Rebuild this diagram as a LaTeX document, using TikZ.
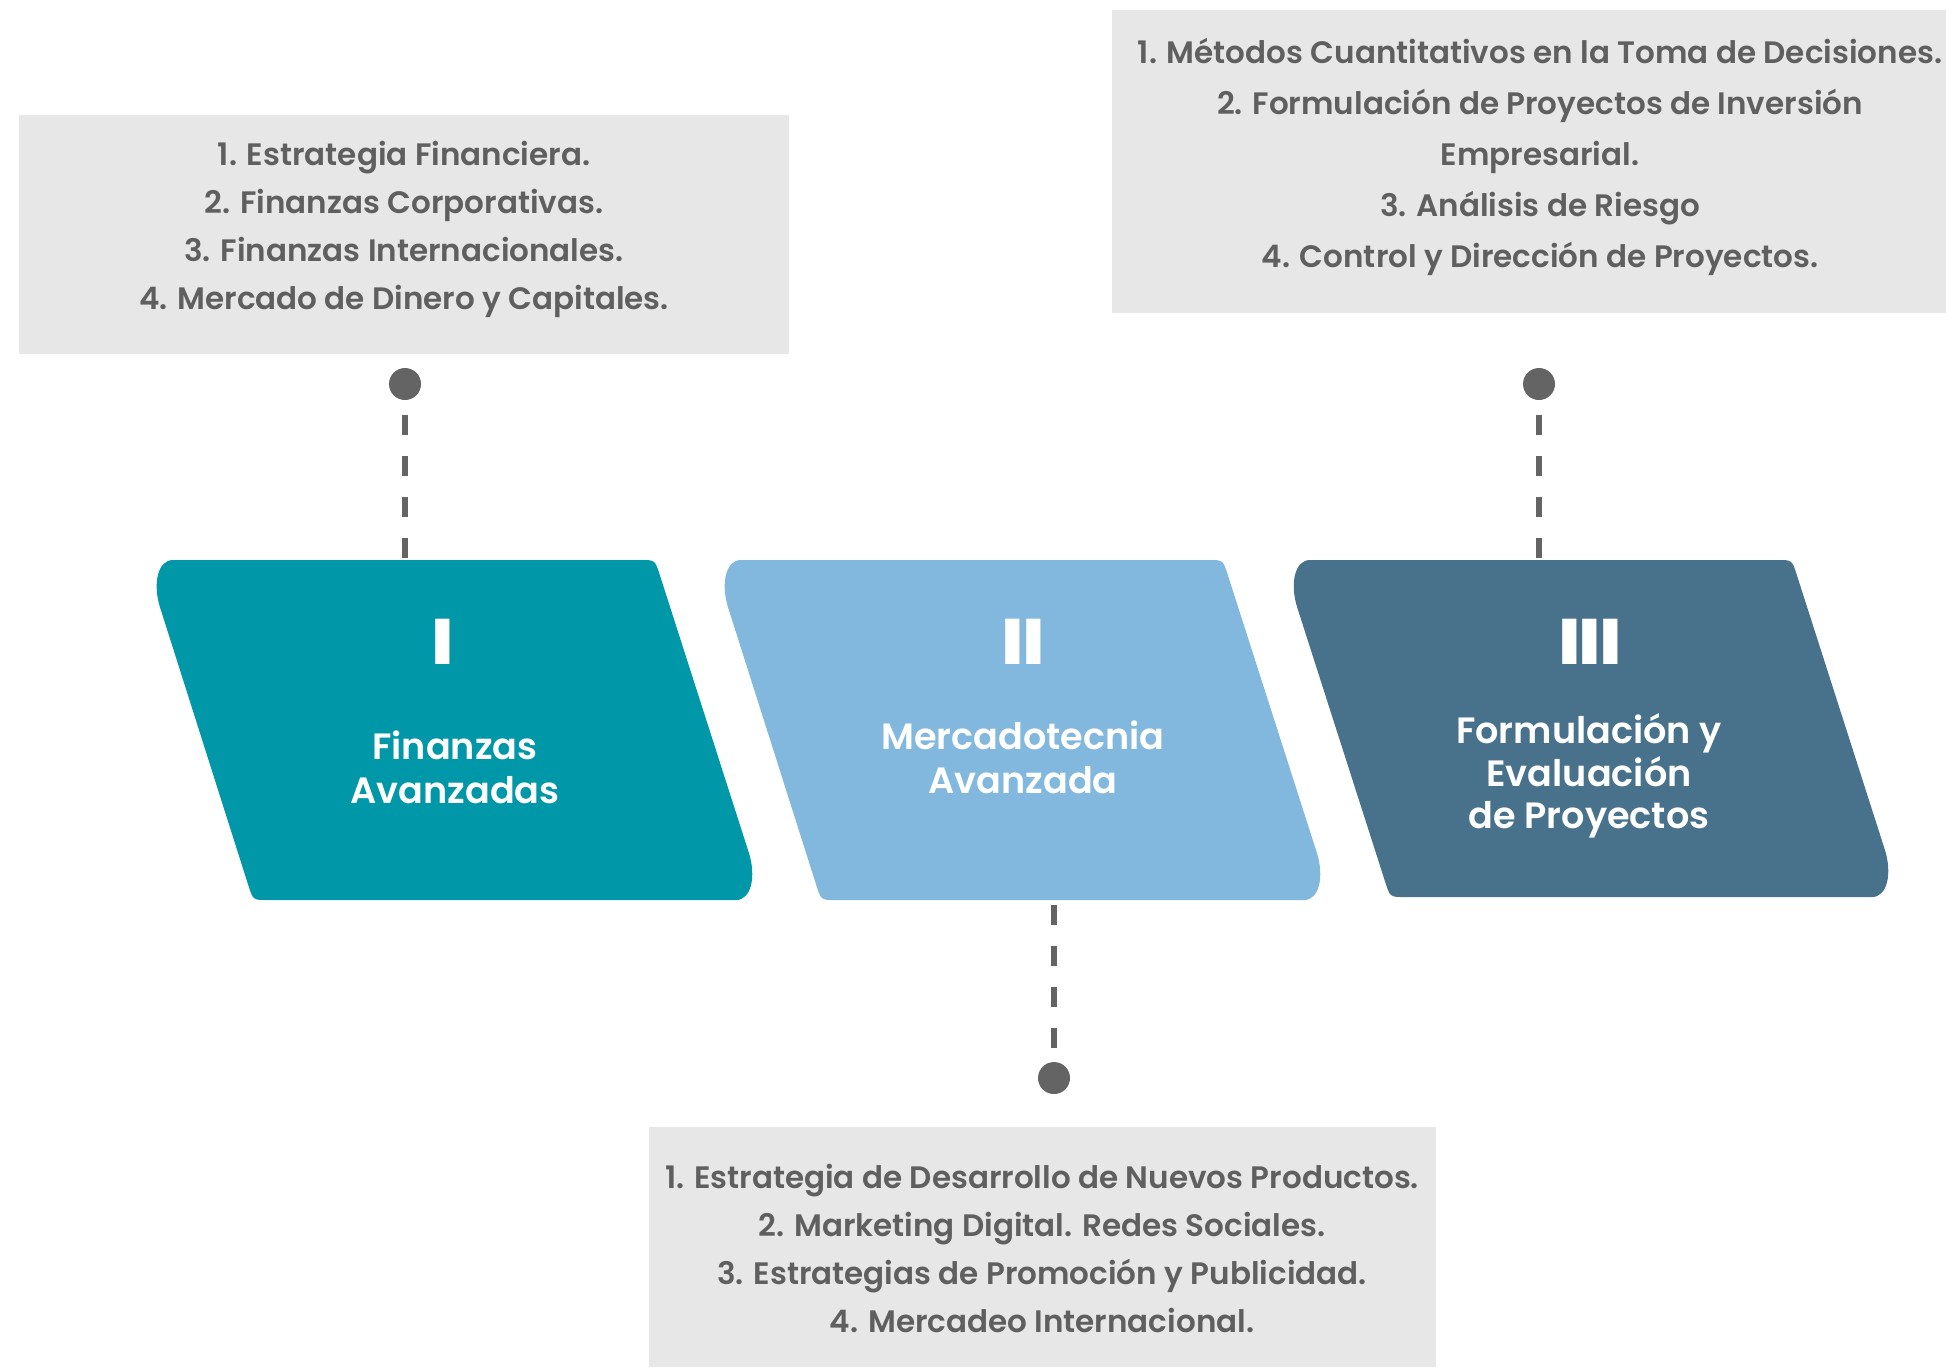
\documentclass[tikz,border=0pt]{standalone}
\usepackage{fontspec}
\usetikzlibrary{calc}
\IfFontExistsTF{Poppins SemiBold}{\newfontfamily\semib{Poppins SemiBold}}{\newfontfamily\semibase{Poppins}\newcommand\semib{\semibase\bfseries}}
\IfFontExistsTF{Poppins Black}{\newfontfamily\numf{Poppins Black}}{\newfontfamily\numbase{Poppins}\newcommand\numf{\numbase\bfseries}}
\definecolor{tealc}{HTML}{0097A9}
\definecolor{lbluec}{HTML}{82B8DE}
\definecolor{slatec}{HTML}{48728C}
\definecolor{boxgray}{HTML}{E6E7E6}
\definecolor{txtgray}{HTML}{5F5F5F}
\definecolor{dotgray}{HTML}{646464}
\tikzset{
  listbox/.style={fill=boxgray, draw=none},
  listtext/.style={text=txtgray, align=center, font=\semib\fontsize{15.5}{24}\selectfont, inner sep=0pt},
  titletext/.style={text=white, align=center, font=\semib\fontsize{18.3}{22}\selectfont, inner sep=0pt},
  numtext/.style={text=white, font=\numf\fontsize{32}{32}\selectfont, inner sep=0pt},
  dotnode/.style={circle, fill=dotgray, minimum size=16pt, inner sep=0pt},
  dashline/.style={draw=dotgray, line width=3pt, dash pattern=on 10pt off 10.5pt}
}
% parallelogram with corners A (top left), B (top right), C (bottom right), D (bottom left)
\newcommand\paral[5]{%
  \fill[#1] ($(#2)!14pt!(#3)$) -- ($(#3)!7pt!(#2)$) .. controls (#3) .. ($(#3)!8pt!(#4)$)
    -- ($(#4)!25pt!(#3)$) .. controls ($(#4)!12.5pt!(#3)$) and ($(#4)!6.3pt!(#5)$) .. ($(#4)!14pt!(#5)$)
    -- ($(#5)!7pt!(#4)$) .. controls (#5) .. ($(#5)!8pt!(#2)$)
    -- ($(#2)!25pt!(#5)$) .. controls ($(#2)!12.5pt!(#5)$) and ($(#2)!6.3pt!(#3)$) .. ($(#2)!14pt!(#3)$) -- cycle;}
\begin{document}
\begin{tikzpicture}[x=0.5pt, y=-0.5pt]
\useasboundingbox (0,0) rectangle (1946,1367);
% list boxes
\fill[listbox] (19,115) rectangle (789,354);
\fill[listbox] (1112,10) rectangle (1946,313);
\fill[listbox] (649,1127) rectangle (1436,1367);
\node[listtext] (la) at (404,229) {1. Estrategia Financiera.\\2. Finanzas Corporativas.\\3. Finanzas Internacionales.\\4. Mercado de Dinero y Capitales.};
\node[listtext, font=\semib\fontsize{15.5}{25.5}\selectfont] (lb) at (1540,157) {1. Métodos Cuantitativos en la Toma de Decisiones.\\2. Formulación de Proyectos de Inversión\\Empresarial.\\3. Análisis de Riesgo\\4. Control y Dirección de Proyectos.};
\node[listtext] (lc) at (1042,1248) {1. Estrategia de Desarrollo de Nuevos Productos.\\2. Marketing Digital. Redes Sociales.\\3. Estrategias de Promoción y Publicidad.\\4. Mercadeo Internacional.};
% dots and connectors
\node[dotnode] (d1) at (405,384) {};
\node[dotnode] (d3) at (1539,384) {};
\node[dotnode] (d2) at (1054,1078) {};
\coordinate (s1) at (405,560);
\coordinate (s3) at (1539,560);
\coordinate (s2) at (1054,900);
\draw[dashline, shorten <=7.5pt] (d1) -- (s1);
\draw[dashline, shorten <=7.5pt] (d3) -- (s3);
\draw[dashline, shorten <=2.5pt] (s2) -- (d2);
% shapes
\coordinate (a1) at (145,560); \coordinate (b1) at (655,560);
\coordinate (c1) at (764,900); \coordinate (e1) at (253,900);
\coordinate (a2) at (713,560); \coordinate (b2) at (1223,560);
\coordinate (c2) at (1332,900); \coordinate (e2) at (821,900);
\coordinate (a3) at (1282,560); \coordinate (b3) at (1792,560);
\coordinate (c3) at (1900,897); \coordinate (e3) at (1390,897);
\paral{tealc}{a1}{b1}{c1}{e1}
\paral{lbluec}{a2}{b2}{c2}{e2}
\paral{slatec}{a3}{b3}{c3}{e3}
% numerals
\node[numtext] (n1) at (443,642) {I};
\node[numtext] (n2) at (1023,642) {II};
\node[numtext] (n3) at (1590,642) {III};
% titles
\node[titletext] (t1) at (455,767) {Finanzas\\Avanzadas};
\node[titletext] (t2) at (1023,757) {Mercadotecnia\\Avanzada};
\node[titletext, font=\semib\fontsize{18.3}{21.3}\selectfont] (t3) at (1589,776) {Formulación y\\Evaluación\\de Proyectos};
\end{tikzpicture}
\end{document}
